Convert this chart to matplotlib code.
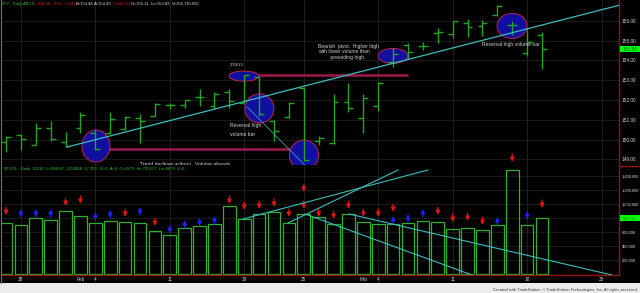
import numpy as np
import matplotlib.pyplot as plt
from matplotlib.patches import Ellipse, Rectangle
from matplotlib.lines import Line2D
from matplotlib.transforms import blended_transform_factory

plt.rcParams['font.family'] = ['Liberation Sans', 'DejaVu Sans']

# SPY daily bars, Jan 25 2013 - Mar 19 2013
opens = [149.87, 150.23, 149.72, 150.58, 149.87, 150.58, 150.33, 150.33, 150.53, 151.09,
         151.19, 151.75, 151.75, 152.15, 151.70, 152.40, 151.85, 153.16, 150.94, 151.14,
         152.61, 149.92, 149.82, 151.90, 151.09, 151.70, 153.92, 154.78, 154.73, 155.39,
         155.34, 155.90, 155.75, 156.30, 155.80, 154.38, 155.29]
highs = [150.18, 150.28, 150.84, 150.94, 150.38, 151.39, 150.53, 151.39, 151.19, 151.29,
         151.85, 151.85, 152.00, 152.56, 152.40, 152.56, 153.27, 153.22, 150.99, 151.90,
         152.66, 150.18, 152.30, 152.86, 152.30, 152.91, 154.63, 154.89, 154.94, 155.65,
         156.00, 156.10, 156.05, 156.81, 156.00, 155.65, 155.44]
lows = [149.37, 149.47, 149.72, 149.92, 149.62, 150.33, 149.47, 150.28, 150.48, 149.82,
        151.19, 151.54, 151.59, 151.70, 151.54, 151.59, 151.85, 151.19, 149.92, 151.09,
        148.91, 149.72, 149.77, 151.39, 150.33, 151.44, 153.67, 154.08, 154.53, 154.89,
        155.14, 155.19, 155.24, 156.25, 155.29, 154.23, 153.57]
closes = [150.13, 150.03, 150.58, 150.03, 149.67, 151.24, 149.52, 151.04, 151.14, 150.94,
          151.80, 151.75, 152.00, 152.15, 152.30, 151.95, 153.27, 151.29, 150.43, 151.85,
          148.96, 150.08, 151.90, 151.59, 152.10, 152.86, 154.33, 154.43, 154.73, 155.44,
          156.00, 155.70, 155.90, 156.76, 155.80, 154.94, 154.58]

# $TVOL volume bars
volumes = [733000, 701000, 796000, 772000, 899000, 828000, 733000, 757000, 739000, 725000,
           616000, 559000, 662000, 691000, 715000, 970000, 786000, 852000, 887000, 725000,
           852000, 818000, 711000, 852000, 748000, 711000, 711000, 725000, 757000, 739000,
           644000, 662000, 626000, 701000, 1477000, 701000, 795711]

# indicator arrows above the volume bars
down_idx = [0, 4, 5, 8, 10, 15, 16, 17, 18, 19, 20, 20, 21, 22, 23, 24, 25, 26, 29, 30,
            31, 32, 34, 36]
down_lvl = [899000, 1027000, 1055000, 871000, 743000, 1055000, 970000, 984000, 1013000,
            871000, 1226000, 984000, 871000, 843000, 984000, 871000, 871000, 942000,
            899000, 800000, 814000, 757000, 1651000, 999000]
up_idx = [1, 2, 3, 6, 7, 9, 11, 12, 13, 14, 26, 27, 28, 33, 35]
up_lvl = [871000, 871000, 871000, 828000, 857000, 899000, 644000, 715000, 743000, 772000,
          772000, 800000, 871000, 757000, 843000]

tick_idx = [1, 5, 6, 11, 16, 20, 24, 25, 30, 35, 40]
tick_lbl = ['28', 'Feb', '4', '11', '19', '25', 'Mar', '4', '11', '18', '25']
week_idx = [1, 6, 11, 16, 20, 25, 30, 35, 40]
price_ticks = [149, 150, 151, 152, 153, 154, 155, 156]
vol_ticks = [200000, 400000, 600000, 800000, 1000000, 1200000, 1400000]

BG = 'black'
GREEN = '#22a622'
CYAN = '#3cbcbc'
MAROON = '#a01a50'
TXT = '#d4d4d4'
AXRED = '#9a1010'

W, H = 640, 293
fig = plt.figure(figsize=(6.4, 2.93), dpi=100, facecolor=BG)

ax_p = fig.add_axes([2 / W, (H - 165) / H, 617 / W, 165 / H], facecolor=BG)
ax_v = fig.add_axes([2 / W, (H - 275) / H, 617 / W, 110 / H], facecolor=BG)

x = np.arange(len(closes))
xlim = (-0.27, 41.17)

# ---- price panel ----
for xi in week_idx:
    ax_p.axvline(xi, color='#262626', lw=0.6, zorder=0)
for p in price_ticks:
    ax_p.axhline(p, color='#1e1e1e', lw=0.6, zorder=0)

tick = 0.33
ax_p.vlines(x, lows, highs, color=GREEN, lw=1.0, zorder=3)
ax_p.hlines(opens, x - tick, x, color=GREEN, lw=1.0, zorder=3)
ax_p.hlines(closes, x, x + tick, color=GREEN, lw=1.0, zorder=3)

# horizontal marker lines
ax_p.hlines(153.25, 16.6, 27.0, color=MAROON, lw=1.8, zorder=2)
ax_p.hlines(149.52, 6.0, 20.0, color=MAROON, lw=1.8, zorder=2)

# ellipses (center idx, center price, width, height)
ell = [(6.04, 149.67, 1.88, 1.62), (15.98, 153.21, 2.01, 0.51), (17.02, 151.57, 1.95, 1.47),
       (20.01, 149.21, 1.95, 1.52), (25.99, 154.23, 2.01, 0.76), (33.98, 155.75, 2.01, 1.27)]
for cx, cy, w, h in ell:
    ax_p.add_patch(Ellipse((cx, cy), w, h, fc='#1010a0', ec='#c0204a', lw=0.7, zorder=2.5))

# trend lines
ax_p.plot([4.1, 41.24], [149.62, 156.81], color=CYAN, lw=0.9, zorder=4)
ax_p.plot([16.19, 20.2], [151.65, 148.6], color=CYAN, lw=0.5, zorder=4)

fs = 3.6
ax_p.text(15.04, 153.77, '2/19/13', color=TXT, fontsize=3.0, va='center', zorder=5)
ax_p.text(15.04, 150.84, 'Reversal high\n\nvolume bar', color=TXT, fontsize=fs,
          va='top', linespacing=0.9, zorder=5)
ax_p.text(20.95, 154.85, 'Bearish  pivot.  Higher high\nwith lower volume than\n'
          '         preceding high.', color=TXT, fontsize=fs, va='top',
          linespacing=1.15, zorder=5)
ax_p.text(31.97, 154.83, 'Reversal high volume bar', color=TXT, fontsize=fs,
          va='center', zorder=5)
ax_p.text(9.0, 148.72, 'Trend declines without.  Volume already', color=TXT,
          fontsize=fs, va='center', zorder=5)

ax_p.set_xlim(*xlim)
ax_p.set_ylim(148.709, 157.063)
ax_p.set_xticks([])
ax_p.yaxis.tick_right()
ax_p.set_yticks(price_ticks)
ax_p.set_yticklabels(['%.2f' % p for p in price_ticks])
ax_p.tick_params(axis='y', length=0, pad=2.2, labelsize=3.4, labelcolor=TXT)
for s in ['top', 'left', 'bottom']:
    ax_p.spines[s].set_visible(False)
ax_p.spines['right'].set_color(AXRED)
ax_p.spines['right'].set_linewidth(1.0)

tr = blended_transform_factory(ax_p.transAxes, ax_p.transData)
ax_p.add_patch(Rectangle((1.002, closes[-1] - 0.15), 0.034, 0.3, transform=tr,
                         fc='#00ff00', ec='none', clip_on=False, zorder=6))
ax_p.text(1.006, closes[-1], '%.2f' % closes[-1], transform=tr, fontsize=3.4,
          color='#1a6a1a', va='center', clip_on=False, zorder=7)

# ---- volume panel ----
for xi in week_idx:
    ax_v.axvline(xi, color='#262626', lw=0.6, zorder=0)
for v in vol_ticks:
    ax_v.axhline(v, color='#1e1e1e', lw=0.6, zorder=0)

ax_v.bar(x, volumes, width=0.85, fill=False, edgecolor='#2eb02e', lw=0.9, zorder=2)

ah = 56000
for i, lv in zip(down_idx, down_lvl):
    ax_v.annotate('', xy=(i, lv - ah), xytext=(i, lv + ah), annotation_clip=False,
                  arrowprops=dict(arrowstyle='-|>,head_length=0.25,head_width=0.12',
                                  color='#e01414', lw=0.9, shrinkA=0, shrinkB=0))
for i, lv in zip(up_idx, up_lvl):
    ax_v.annotate('', xy=(i, lv + ah), xytext=(i, lv - ah), annotation_clip=False,
                  arrowprops=dict(arrowstyle='-|>,head_length=0.25,head_width=0.12',
                                  color='#1a24ff', lw=0.9, shrinkA=0, shrinkB=0))

# volume trend lines
ax_v.plot([15.92, 28.34], [786000, 1481000], color=CYAN, lw=0.8, zorder=3)
ax_v.plot([18.94, 26.33], [729000, 1481000], color=CYAN, lw=0.8, zorder=3)
ax_v.plot([20.08, 31.30], [857000, -8500], color=CYAN, lw=0.8, zorder=3)
ax_v.plot([23.04, 40.70], [857000, -8500], color=CYAN, lw=0.8, zorder=3)

ax_v.set_xlim(*xlim)
ax_v.set_ylim(-8500, 1551800)
ax_v.yaxis.tick_right()
ax_v.set_yticks(vol_ticks)
ax_v.set_yticklabels(['{:,}'.format(v) for v in vol_ticks])
ax_v.tick_params(axis='y', length=0, pad=1.8, labelsize=2.9, labelcolor=TXT)
ax_v.set_xticks(tick_idx)
ax_v.set_xticklabels(tick_lbl)
ax_v.tick_params(axis='x', length=0, pad=1.2, labelsize=3.4, labelcolor=TXT)
for s in ['top', 'left']:
    ax_v.spines[s].set_visible(False)
for s in ['right', 'bottom']:
    ax_v.spines[s].set_color(AXRED)
    ax_v.spines[s].set_linewidth(1.0)

trv = blended_transform_factory(ax_v.transAxes, ax_v.transData)
ax_v.add_patch(Rectangle((1.002, volumes[-1] - 42000), 0.034, 84000, transform=trv,
                         fc='#00ff00', ec='none', clip_on=False, zorder=6))
ax_v.text(1.005, volumes[-1], '{:,}'.format(volumes[-1]), transform=trv, fontsize=3.0,
          color='#1a6a1a', va='center', clip_on=False, zorder=7)

ax_v.text(0.003, 0.96, '$TVOL - Daily  10138  L=818687  1210408  17.35%  B=0  A=0  '
          'O=9879  Hi=795217  Lo=8879  V=0', transform=ax_v.transAxes, color='#30c030',
          fontsize=3.0, va='center', zorder=5)

# panel separator at the right scale
fig.add_artist(Line2D([619 / W, 1.0], [(H - 166) / H] * 2, color=AXRED, lw=1.0))
fig.add_artist(Line2D([1 / W, 1 / W], [(H - 283) / H, 1.0], color='#707070', lw=0.8))

# header
hdr = [(1, 'SPY - Daily ARCX', '#30c030'), (33, 'L=154.48  -0.82  -0.34%', '#e02020'),
       (76, 'B=154.48', TXT), (94, 'A=154.49', TXT), (113, 'C=155.30', '#e02020'),
       (131, 'Hi=155.31', TXT), (151, 'Lo=153.89', TXT), (172, 'V=156,710,000', TXT)]
for hx, s, c in hdr:
    fig.text(hx / W, 1 - 4 / H, s, color=c, fontsize=3.0, va='center')

# bottom strip
fig.add_artist(Rectangle((0, 0), 1, 10 / H, transform=fig.transFigure,
                         fc='#ececec', ec='none'))
fig.text(638 / W, 3 / H, 'Created with TradeStation. \u00a9TradeStation Technologies, Inc. '
         'All rights reserved.', color='#404040', fontsize=3.0, ha='right', va='center')

fig.savefig('out.png', dpi=100, facecolor=BG)
